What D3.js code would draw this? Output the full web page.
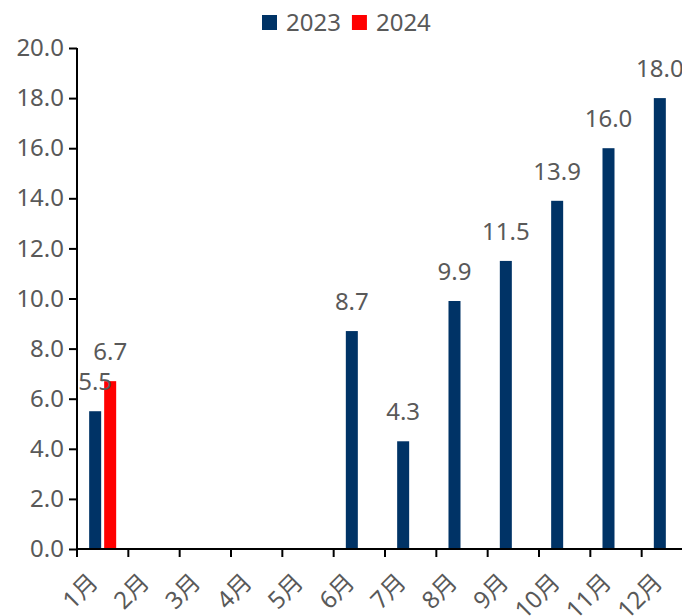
<!DOCTYPE html>
<html>
<head>
<meta charset="utf-8">
<script src="https://cdn.jsdelivr.net/npm/d3@7"></script>
<style>
  body { margin: 0; background: #fff; }
  text { font-family: "Noto Sans", "Noto Sans CJK SC", sans-serif; fill: #595959; }
</style>
</head>
<body>
<div id="chart"></div>
<script>
// data
const months = ['1月', '2月', '3月', '4月', '5月', '6月', '7月', '8月', '9月', '10月', '11月', '12月'];
const seriesNames = ['2023', '2024'];
const values2023 = [5.5, null, null, null, null, 8.7, 4.3, 9.9, 11.5, 13.9, 16.0, 18.0];
const values2024 = [6.7, null, null, null, null, null, null, null, null, null, null, null];
const yTicks = [0, 2, 4, 6, 8, 10, 12, 14, 16, 18, 20];

const colors = { '2023': '#003366', '2024': '#ff0000' };
const width = 682, height = 616;
const fontSize = 24;

const svg = d3.select('#chart').append('svg')
    .attr('width', width)
    .attr('height', height);

const x = d3.scaleBand()
    .domain(months)
    .range([77, 693])
    .padding(0);

const xInner = d3.scaleBand()
    .domain(seriesNames)
    .range([0, x.bandwidth()])
    .paddingInner(0.2)
    .paddingOuter(0.81);

const y = d3.scaleLinear()
    .domain([0, 20])
    .range([549, 48]);

// bars
const rows = months.map((m, i) => ({ month: m, '2023': values2023[i], '2024': values2024[i] }));
const barData = [];
rows.forEach(r => seriesNames.forEach(s => {
    if (r[s] != null) barData.push({ month: r.month, series: s, value: r[s] });
}));

svg.append('g').selectAll('rect')
    .data(barData)
    .enter()
    .append('rect')
    .attr('x', d => x(d.month) + xInner(d.series))
    .attr('y', d => y(d.value))
    .attr('width', xInner.bandwidth())
    .attr('height', d => y(0) - y(d.value))
    .attr('fill', d => colors[d.series]);

// value labels
svg.append('g').selectAll('text')
    .data(barData)
    .enter()
    .append('text')
    .attr('x', d => x(d.month) + xInner(d.series) + xInner.bandwidth() / 2)
    .attr('y', d => y(d.value) - 21)
    .attr('text-anchor', 'middle')
    .style('font-size', fontSize + 'px')
    .text(d => d.value.toFixed(1));

// y axis
const yAxis = svg.append('g')
    .attr('transform', 'translate(77,0)')
    .call(d3.axisLeft(y).tickValues(yTicks).tickFormat(d3.format('.1f')).tickSize(8).tickPadding(5).tickSizeOuter(0));
yAxis.select('.domain').attr('stroke', '#000').attr('stroke-width', 2)
    .attr('d', 'M0,' + y(20) + 'V' + (y(0) + 8));
yAxis.selectAll('.tick line').attr('stroke', '#000').attr('stroke-width', 2);
yAxis.selectAll('.tick text').style('font-size', fontSize + 'px').attr('fill', '#595959')
    .style('font-family', '"Noto Sans", sans-serif');

// x axis line and ticks at band edges
const xAxis = svg.append('g');
xAxis.append('line')
    .attr('x1', 77).attr('x2', width)
    .attr('y1', y(0)).attr('y2', y(0))
    .attr('stroke', '#000').attr('stroke-width', 2);
xAxis.selectAll('.xtick')
    .data(months.slice(1))
    .enter()
    .append('line')
    .attr('class', 'xtick')
    .attr('x1', d => x(d)).attr('x2', d => x(d))
    .attr('y1', y(0)).attr('y2', y(0) + 8)
    .attr('stroke', '#000').attr('stroke-width', 2);

xAxis.selectAll('.xlabel')
    .data(months)
    .enter()
    .append('text')
    .attr('class', 'xlabel')
    .attr('transform', d => 'translate(' + (x(d) + x.bandwidth() / 2 - 16) + ',' + (y(0) + 22) + ') rotate(-45)')
    .attr('text-anchor', 'end')
    .attr('dy', '0.75em')
    .style('font-size', fontSize + 'px')
    .text(d => d);

// legend
const legend = svg.append('g').attr('transform', 'translate(262,15)');
let lx = 0;
seriesNames.forEach(s => {
    const item = legend.append('g').attr('transform', 'translate(' + lx + ',0)');
    item.append('rect').attr('width', 15).attr('height', 15).attr('fill', colors[s]);
    const t = item.append('text')
        .attr('x', 24).attr('y', 7.5)
        .attr('dy', '0.35em')
        .style('font-size', fontSize + 'px')
        .text(s);
    lx += 24 + t.node().getComputedTextLength() + 11;
});
</script>
</body>
</html>
